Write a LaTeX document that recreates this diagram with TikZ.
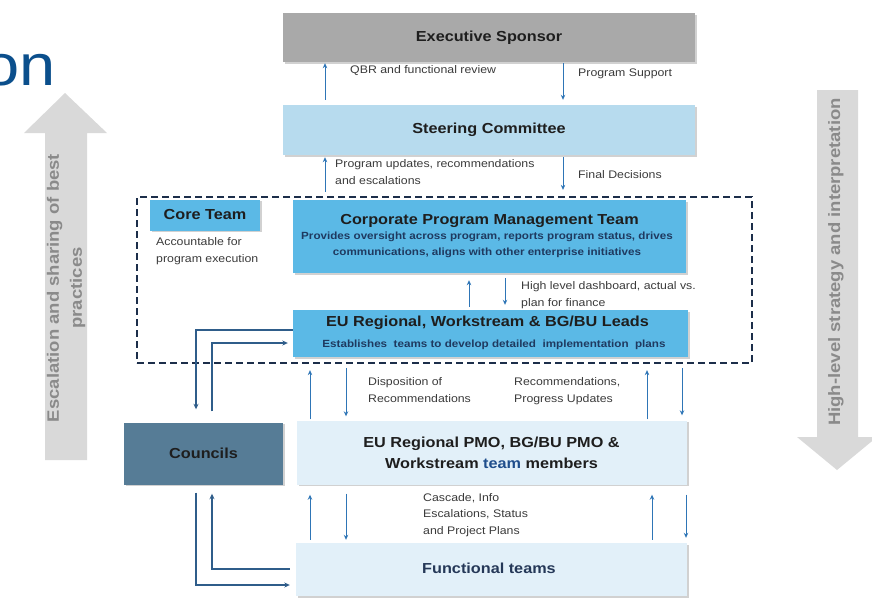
\documentclass[tikz,border=0pt]{standalone}
\usepackage{fontspec}
\setmainfont{Liberation Sans}[FakeStretch=1.12]
\usetikzlibrary{arrows.meta,shadows,calc}
\definecolor{execcol}{HTML}{A9A9A9}
\definecolor{steercol}{HTML}{B7DBEE}
\definecolor{corecol}{HTML}{5BB9E6}
\definecolor{councol}{HTML}{567C96}
\definecolor{palecol}{HTML}{E2F0F9}
\definecolor{titlecol}{HTML}{1E1E1E}
\definecolor{subcol}{HTML}{1F3A60}
\definecolor{teamcol}{HTML}{1F4E8C}
\definecolor{funccol}{HTML}{253858}
\definecolor{lblcol}{HTML}{3A3A3A}
\definecolor{arrcol}{HTML}{2E75B6}
\definecolor{linkcol}{HTML}{2F5D8A}
\definecolor{dashcol}{HTML}{1C2E4A}
\definecolor{bigarrow}{HTML}{D9D9D9}
\definecolor{bigtext}{HTML}{8A8A8A}
\definecolor{headcol}{HTML}{0B4F8C}
\begin{document}
\begin{tikzpicture}[x=1pt,y=-1pt,
  box/.style={rectangle, inner sep=0pt,
    drop shadow={shadow xshift=1.6pt,shadow yshift=-1.6pt,fill=black!40,opacity=0.45}},
  ttl/.style={font=\fontsize{14.5}{18}\selectfont\bfseries, text=titlecol, align=center, inner sep=0pt},
  sub/.style={font=\fontsize{10.4}{16}\selectfont\bfseries, text=subcol, align=center, inner sep=0pt},
  lbl/.style={font=\fontsize{11}{16.5}\selectfont, text=lblcol, align=left, anchor=west, inner sep=0pt},
  arr/.style={draw=arrcol, line width=1pt, -{Stealth[length=5pt,width=4.5pt]}},
  carr/.style={draw=linkcol, line width=1.6pt, -{Stealth[length=5.5pt,width=5pt]}},
  big/.style={font=\fontsize{16.5}{23}\selectfont\bfseries, text=bigtext, align=center, rotate=90, inner sep=0pt}
]
\useasboundingbox (0,0) rectangle (872,606);

% heading fragment
\node[font=\fontsize{58}{60}\selectfont, text=headcol, anchor=base east, inner sep=0pt] (head) at (56,85) {on};

% big grey arrows
\fill[bigarrow] (45,460) -- (45,133) -- (24,133) -- (65,93) -- (107,133) -- (87,133) -- (87,460) -- cycle;
\node[big] (esc) at (66,288) {Escalation and sharing of best\\practices};
\fill[bigarrow] (817,90) -- (858,90) -- (858,437) -- (877,437) -- (837,470) -- (797,437) -- (817,437) -- cycle;
\node[big] (hls) at (836,262) {High-level strategy and interpretation};

% dashed core-team frame
\node[draw=dashcol, line width=2.3pt, dash pattern=on 7pt off 4pt, minimum width=615pt, minimum height=166pt, inner sep=0pt] (dash) at (444.5,280) {};

% boxes
\node[box, fill=execcol, minimum width=412pt, minimum height=49pt] (exec) at (489,37.5) {};
\node[ttl] (exect) at (exec) {Executive Sponsor};
\node[box, fill=steercol, minimum width=412pt, minimum height=50pt] (steer) at (489,130) {};
\node[ttl] (steert) at (steer) {Steering Committee};
\node[box, fill=corecol, minimum width=110pt, minimum height=31pt] (core) at (205,215) {};
\node[ttl] (coret) at (core) {Core Team};
\node[lbl] (acc) at (156,251) {Accountable for\\program execution};
\node[box, fill=corecol, minimum width=393pt, minimum height=73pt] (corp) at (489.5,236.5) {};
\node[ttl] (corpt) at (489.5,221) {Corporate Program Management Team};
\node[sub] (corps) at (487,244.5) {Provides oversight across program, reports program status, drives\\communications, aligns with other enterprise initiatives};
\node[box, fill=corecol, minimum width=395pt, minimum height=47pt] (eul) at (490.5,333.5) {};
\node[ttl] (eult) at (487.5,323) {EU Regional, Workstream \& BG/BU Leads};
\node[sub] (euls) at (494,345) {Establishes\ \ teams to develop detailed\ \ implementation\ \ plans};
\node[box, fill=councol, minimum width=159pt, minimum height=62pt] (cou) at (203.5,453.5) {};
\node[ttl] (cout) at (cou) {Councils};
\node[box, fill=palecol, minimum width=390pt, minimum height=64pt] (pmo) at (492,452.5) {};
\node[ttl, font=\fontsize{14.5}{21}\selectfont\bfseries] (pmot) at (491.5,452.5) {EU Regional PMO, BG/BU PMO \&\\Workstream \textcolor{teamcol}{team} members};
\node[box, fill=palecol, minimum width=391pt, minimum height=53pt] (func) at (491.5,569.5) {};
\node[ttl, text=funccol] (funct) at (489,568) {Functional teams};

% x positions of vertical connectors
\coordinate (xa) at (325,0);
\coordinate (xb) at (563,0);
\coordinate (xc) at (469,0);
\coordinate (xd) at (505,0);
\coordinate (xe) at (310,0);
\coordinate (xf) at (346,0);
\coordinate (xg) at (647,0);
\coordinate (xh) at (682,0);
\coordinate (xi) at (652,0);
\coordinate (xj) at (686,0);

% exec <-> steering
\draw[arr, shorten <=5pt, shorten >=1pt] (xa |- steer.north) -- (xa |- exec.south);
\draw[arr, shorten <=1pt, shorten >=5pt] (xb |- exec.south) -- (xb |- steer.north);
\node[lbl] (qbr) at (350,71) {QBR and functional review};
\node[lbl] (psup) at (578,74) {Program Support};

% steering <-> core frame
\draw[arr, shorten <=4pt, shorten >=2pt] (xa |- dash.north) -- (xa |- steer.south);
\draw[arr, shorten <=2pt, shorten >=6pt] (xb |- steer.south) -- (xb |- dash.north);
\node[lbl] (pupd) at (335,172) {Program updates, recommendations\\and escalations};
\node[lbl] (fdec) at (578,175) {Final Decisions};

% corp <-> EU leads
\draw[arr, shorten <=3pt, shorten >=7pt] (xc |- eul.north) -- (xc |- corp.south);
\draw[arr, shorten <=5pt, shorten >=5pt] (xd |- corp.south) -- (xd |- eul.north);
\node[lbl] (hld) at (521,295) {High level dashboard, actual vs.\\plan for finance};

% EU leads <-> PMO
\draw[arr, shorten <=1pt, shorten >=6pt] (xe |- pmo.north) -- (xe |- dash.south);
\draw[arr, shorten <=4pt, shorten >=4pt] (xf |- dash.south) -- (xf |- pmo.north);
\draw[arr, shorten <=1pt, shorten >=6pt] (xg |- pmo.north) -- (xg |- dash.south);
\draw[arr, shorten <=4pt, shorten >=5pt] (xh |- dash.south) -- (xh |- pmo.north);
\node[lbl] (disp) at (368,390) {Disposition of\\Recommendations};
\node[lbl] (recs) at (514,391) {Recommendations,\\Progress Updates};

% PMO <-> functional
\draw[arr, shorten <=3pt, shorten >=10pt] (xe |- func.north) -- (xe |- pmo.south);
\draw[arr, shorten <=9pt, shorten >=3pt] (xf |- pmo.south) -- (xf |- func.north);
\draw[arr, shorten <=3pt, shorten >=10pt] (xi |- func.north) -- (xi |- pmo.south);
\draw[arr, shorten <=10pt, shorten >=5pt] (xj |- pmo.south) -- (xj |- func.north);
\node[lbl] (casc) at (423,515) {Cascade, Info\\Escalations, Status\\and Project Plans};

% councils links
\draw[carr, shorten >=13pt] ($(eul.west)+(0,-3.5)$) -| ([xshift=-7.5pt]cou.north);
\draw[carr, shorten <=11pt, shorten >=5pt] ([xshift=8.5pt]cou.north) |- ($(eul.west)+(0,9.5)$);
\draw[carr, shorten <=8pt, shorten >=6pt] ([xshift=-7.5pt]cou.south) |- ($(func.west)+(0,15.5)$);
\draw[carr, shorten <=6pt, shorten >=9pt] ($(func.west)+(0,-0.5)$) -| ([xshift=8.5pt]cou.south);
\end{tikzpicture}
\end{document}
